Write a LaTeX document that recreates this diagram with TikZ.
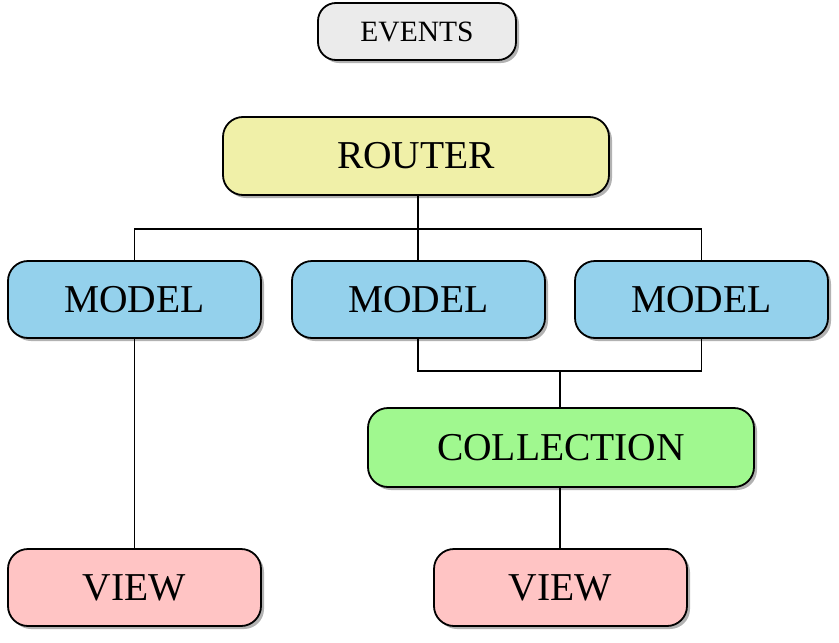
\documentclass[tikz,border=0pt]{standalone}
\usepackage{fontspec}
\setmainfont{Liberation Serif}
\usetikzlibrary{shadows,calc}
\definecolor{evfill}{HTML}{EBEBEB}
\definecolor{rtfill}{HTML}{F0F0A8}
\definecolor{mdfill}{HTML}{94D1EC}
\definecolor{clfill}{HTML}{A0F88F}
\definecolor{vwfill}{HTML}{FFC4C4}
\tikzset{
  boxbase/.style={draw=black, line width=1.8pt, rounded corners=20pt, inner sep=0pt,
    drop shadow={shadow xshift=3pt, shadow yshift=-3pt, opacity=0.3, fill=black},
    font=\fontsize{39.5}{42}\selectfont},
  bigbox/.style={boxbase, minimum width=386pt, minimum height=78pt},
  midbox/.style={boxbase, minimum width=253pt, minimum height=77pt},
  link/.style={draw=black, line width=1.4pt}
}
\begin{document}
\begin{tikzpicture}[x=1pt,y=-1pt]
\useasboundingbox (0,0) rectangle (839,643);
\node[boxbase, fill=evfill, minimum width=198pt, minimum height=57pt, rounded corners=18pt,
  font=\fontsize{29.5}{32}\selectfont] (events) at (417,31.5) {EVENTS};
\node[bigbox, fill=rtfill] (router) at (416,156) {ROUTER};
\node[midbox, fill=mdfill] (m1) at (134.5,299.5) {MODEL};
\node[midbox, fill=mdfill] (m2) at (418.5,299.5) {MODEL};
\node[midbox, fill=mdfill] (m3) at (701.5,299.5) {MODEL};
\node[bigbox, fill=clfill, minimum height=79pt] (coll) at (561,447.5) {COLLECTION};
\node[midbox, fill=vwfill] (v1) at (134.5,587.5) {VIEW};
\node[midbox, fill=vwfill] (v2) at (560.5,587.5) {VIEW};
\coordinate (rj) at (418,229);
\coordinate (cj) at (560,371);
\draw[link] (router.south -| rj) -- (rj);
\draw[link] (rj) -| (m1.north);
\draw[link] (rj) -| (m3.north);
\draw[link] (rj) -- (m2.north -| rj);
\draw[link] (m2.south -| rj) |- (cj);
\draw[link] (cj) -| (m3.south);
\draw[link] (cj) -- (coll.north -| cj);
\draw[link] (coll.south -| cj) -- (v2.north -| cj);
\draw[link] (m1.south) -- (v1.north);
\end{tikzpicture}
\end{document}
